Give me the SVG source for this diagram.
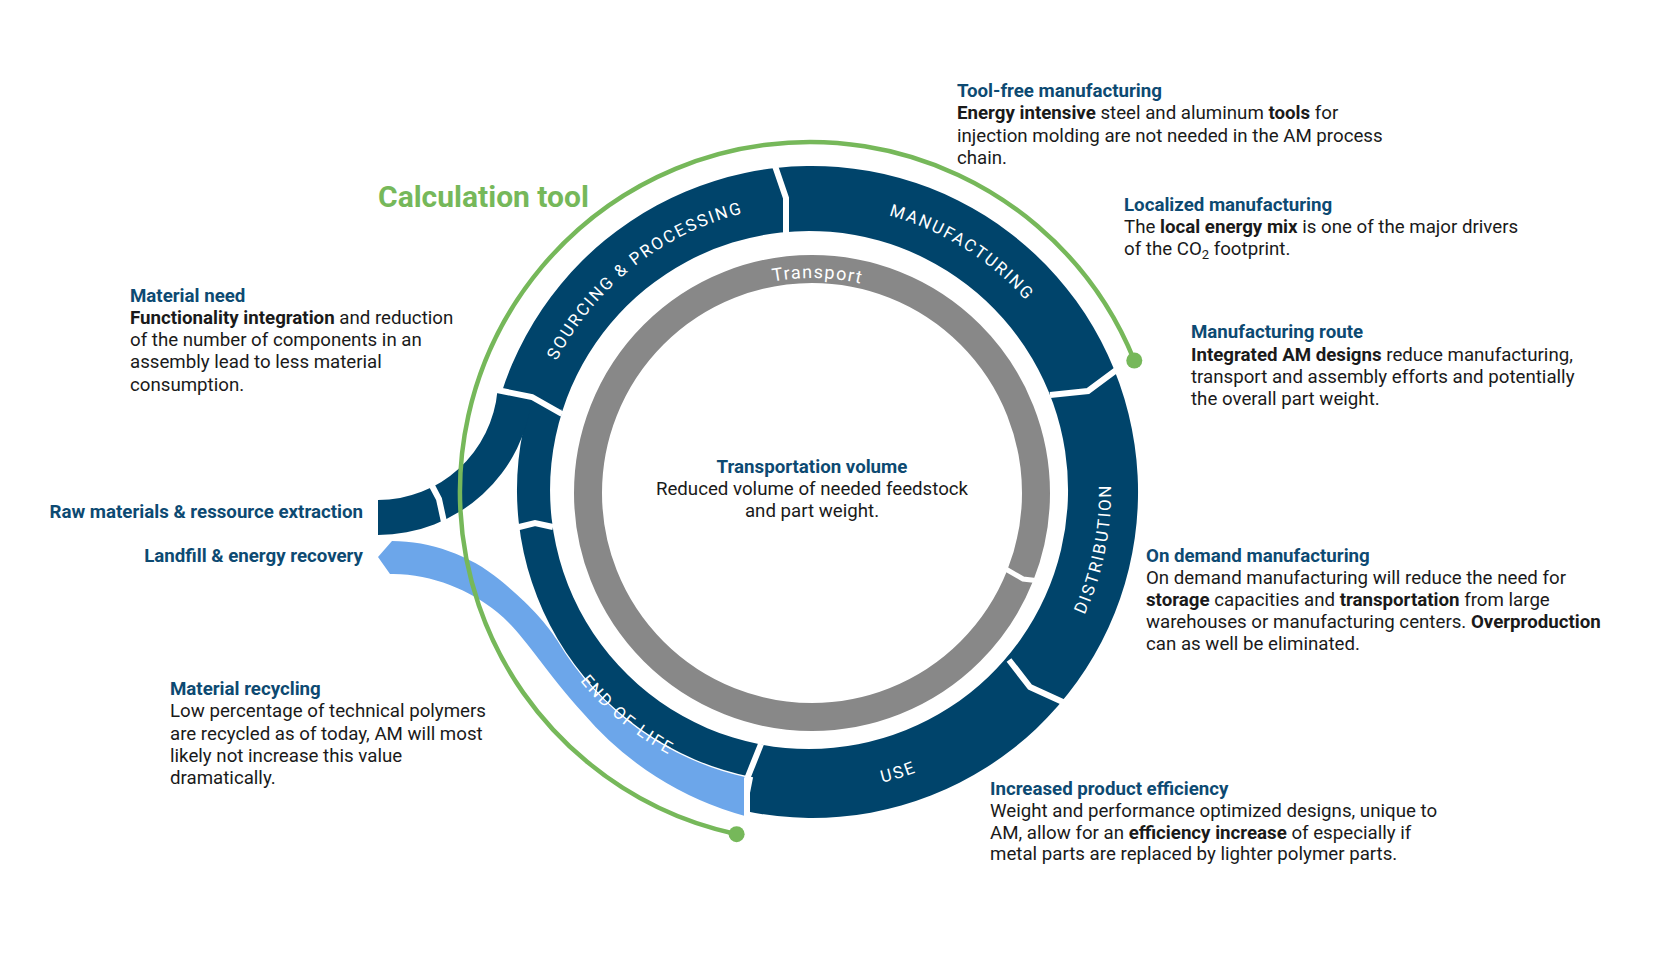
<svg xmlns="http://www.w3.org/2000/svg" width="1654" height="961" viewBox="0 0 1654 961">
<style>
.seg{fill:#00446b}
.lb{fill:#6ca6ea}
.sep{fill:none;stroke:#fff;stroke-width:6;stroke-linejoin:miter}
.gsep{fill:none;stroke:#fff;stroke-width:5}
.rl{font-family:Roboto,"Liberation Sans",sans-serif;font-size:17px;fill:#fff;letter-spacing:2px}
.h{font-family:Roboto,"Liberation Sans",sans-serif;font-weight:700;fill:#0d4a72;font-size:18.7px}
.t{font-family:Roboto,"Liberation Sans",sans-serif;font-size:18.7px;fill:#1a1a1a}
.b{font-weight:700}
.green{fill:none;stroke:#76b85a;stroke-width:4.5}
</style>
<defs>
<path id="cw287" d="M525,492 A287,287 0 1,1 1099,492 A287,287 0 1,1 525,492"/>
<path id="ccw299" d="M513,492 A299,299 0 1,0 1111,492 A299,299 0 1,0 513,492"/>
<path id="cw215" d="M597,493 A215,215 0 1,1 1027,493 A215,215 0 1,1 597,493"/>
</defs>
<rect width="1654" height="961" fill="#fff"/>

<g id="ring-main">
<path class="seg" d="M501.3,393.4 A326,326 0 1,1 746.4,811.3 L759.6,744.2 A259,259 0 1,0 562.7,410 Z"/>
</g>
<g id="ring-left">
<path class="seg" d="M562.7,410 A259,259 0 0,0 759.6,744.2 L754,777.6 A293,293 0 0,1 531.3,399.5 Z"/>
</g>
<g id="raw-materials-flow">
<path class="seg" d="M378,500 A120,120 0 0,0 497.5,390.5 L532.4,393.5 A155,155 0 0,1 378,535 Z"/>
</g>
<g id="landfill-flow">
<path class="lb" d="M378,557 L392,541 C430,541 470,555 500,580 S545,622 557,640 A293,293 0 0,0 745,777 L745,816 A324,324 0 0,1 583,713 C540,665 524,634 497,612 C470,590 430,573 390,574 Z"/>
</g>
<g id="separators">
<polyline class="sep" points="774,163 786,198 786,234"/>
<polyline class="sep" points="1119,368 1088,391 1050,395"/>
<polyline class="sep" points="1009,660 1030,687 1065,703"/>
<polyline class="sep" points="761,744 747,779 747,820"/>
<polyline class="sep" points="515,528 535,523 553,527"/>
<polyline class="sep" points="497,390 532,397 562,414"/>
<polyline class="sep" points="430,482 439,499 444,522"/>
</g>

<g id="node-sourcing"><text class="rl"><textPath href="#cw287" startOffset="259" text-anchor="middle">SOURCING &amp; PROCESSING</textPath></text></g>
<g id="node-manufacturing"><text class="rl"><textPath href="#cw287" startOffset="611" text-anchor="middle">MANUFACTURING</textPath></text></g>
<g id="node-distribution"><text class="rl"><textPath href="#ccw299" startOffset="880" text-anchor="middle">DISTRIBUTION</textPath></text></g>
<g id="node-use"><text class="rl"><textPath href="#ccw299" startOffset="559" text-anchor="middle">USE</textPath></text></g>
<g id="node-end-of-life"><text class="rl"><textPath href="#ccw299" startOffset="263" text-anchor="middle">END OF LIFE</textPath></text></g>

<g id="node-transport">
<circle cx="812" cy="493" r="224" fill="none" stroke="#888" stroke-width="28"/>
<polyline class="gsep" points="1004,568 1023,579 1040,581"/>
<text class="rl" style="font-size:18px;letter-spacing:1.3px"><textPath href="#cw215" startOffset="343" text-anchor="middle">Transport</textPath></text>
</g>

<g id="connectors">
<path class="green" d="M736.6,834.2 A350,350 0 1,1 1134.3,360.5"/>
<circle cx="736.6" cy="834.2" r="8" fill="#76b85a"/>
<circle cx="1134.3" cy="360.5" r="8" fill="#76b85a"/>
</g>

<g id="node-calc-tool">
<text x="378" y="207" font-family="Roboto, 'Liberation Sans', sans-serif" font-weight="700" font-size="30" fill="#76b85a">Calculation tool</text>
</g>

<g id="node-transportation-volume">
<text class="h" x="812" y="473" text-anchor="middle">Transportation volume</text>
<text class="t" x="812" y="495" text-anchor="middle">Reduced volume of needed feedstock</text>
<text class="t" x="812" y="517" text-anchor="middle">and part weight.</text>
</g>

<g id="node-tool-free">
<text class="h" x="957" y="97">Tool-free manufacturing</text>
<text class="t" x="957" y="119"><tspan class="b">Energy intensive</tspan> steel and aluminum <tspan class="b">tools</tspan> for</text>
<text class="t" x="957" y="141.5">injection molding are not needed in the AM process</text>
<text class="t" x="957" y="163.5">chain.</text>
</g>

<g id="node-localized">
<text class="h" x="1124" y="211">Localized manufacturing</text>
<text class="t" x="1124" y="233">The <tspan class="b">local energy mix</tspan> is one of the major drivers</text>
<text class="t" x="1124" y="255">of the CO<tspan font-size="13" dy="4">2</tspan><tspan dy="-4"> footprint.</tspan></text>
</g>

<g id="node-manufacturing-route">
<text class="h" x="1191" y="338">Manufacturing route</text>
<text class="t" x="1191" y="360.5"><tspan class="b">Integrated AM designs</tspan> reduce manufacturing,</text>
<text class="t" x="1191" y="383">transport and assembly efforts and potentially</text>
<text class="t" x="1191" y="405">the overall part weight.</text>
</g>

<g id="node-on-demand">
<text class="h" x="1146" y="562">On demand manufacturing</text>
<text class="t" x="1146" y="583.5">On demand manufacturing will reduce the need for</text>
<text class="t" x="1146" y="605.5"><tspan class="b">storage</tspan> capacities and <tspan class="b">transportation</tspan> from large</text>
<text class="t" x="1146" y="627.5">warehouses or manufacturing centers. <tspan class="b">Overproduction</tspan></text>
<text class="t" x="1146" y="650">can as well be eliminated.</text>
</g>

<g id="node-product-efficiency">
<text class="h" x="990" y="795">Increased product efficiency</text>
<text class="t" x="990" y="817">Weight and performance optimized designs, unique to</text>
<text class="t" x="990" y="838.5">AM, allow for an <tspan class="b">efficiency increase</tspan> of especially if</text>
<text class="t" x="990" y="860">metal parts are replaced by lighter polymer parts.</text>
</g>

<g id="node-material-need">
<text class="h" x="130" y="301.5">Material need</text>
<text class="t" x="130" y="323.5"><tspan class="b">Functionality integration</tspan> and reduction</text>
<text class="t" x="130" y="346">of the number of components in an</text>
<text class="t" x="130" y="368">assembly lead to less material</text>
<text class="t" x="130" y="390.5">consumption.</text>
</g>

<g id="node-raw-materials">
<text class="h" x="363" y="518" text-anchor="end">Raw materials &amp; ressource extraction</text>
</g>
<g id="node-landfill">
<text class="h" x="363" y="561.5" text-anchor="end">Landfill &amp; energy recovery</text>
</g>

<g id="node-material-recycling">
<text class="h" x="170" y="695">Material recycling</text>
<text class="t" x="170" y="717.3">Low percentage of technical polymers</text>
<text class="t" x="170" y="739.7">are recycled as of today, AM will most</text>
<text class="t" x="170" y="762">likely not increase this value</text>
<text class="t" x="170" y="784">dramatically.</text>
</g>
</svg>
